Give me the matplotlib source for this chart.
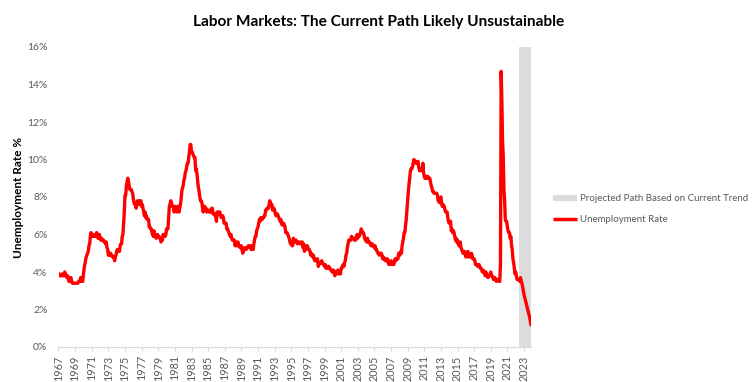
import matplotlib
matplotlib.use("Agg")
import matplotlib.pyplot as plt
from matplotlib.lines import Line2D
import numpy as np

# ---- Data: monthly unemployment rate (%), Jan 1967 onward ----
u_1967_1969 = [3.9, 3.8, 3.8, 3.8, 3.8, 3.9, 3.8, 3.8, 3.8, 4.0, 3.9, 3.8,
               3.7, 3.8, 3.7, 3.5, 3.5, 3.7, 3.7, 3.5, 3.4, 3.4, 3.4, 3.4,
               3.4, 3.4, 3.4, 3.4, 3.4, 3.5, 3.5, 3.5, 3.7, 3.7, 3.5, 3.5]
u_1970s = [3.9, 4.2, 4.4, 4.6, 4.8, 4.9, 5.0, 5.1, 5.4, 5.5, 5.9, 6.1,
           5.9, 5.9, 6.0, 5.9, 5.9, 5.9, 6.0, 6.1, 6.0, 5.8, 6.0, 6.0,
           5.8, 5.7, 5.8, 5.7, 5.7, 5.7, 5.6, 5.6, 5.5, 5.6, 5.3, 5.2,
           4.9, 5.0, 4.9, 5.0, 4.9, 4.9, 4.8, 4.8, 4.8, 4.6, 4.8, 4.9,
           5.1, 5.2, 5.1, 5.1, 5.1, 5.4, 5.5, 5.5, 5.9, 6.0, 6.6, 7.2,
           8.1, 8.1, 8.6, 8.8, 9.0, 8.8, 8.6, 8.4, 8.4, 8.4, 8.3, 8.2,
           7.9, 7.7, 7.6, 7.7, 7.4, 7.6, 7.8, 7.8, 7.6, 7.7, 7.8, 7.8,
           7.5, 7.6, 7.4, 7.2, 7.0, 7.2, 6.9, 7.0, 6.8, 6.8, 6.8, 6.4,
           6.4, 6.3, 6.3, 6.1, 6.0, 5.9, 6.2, 5.9, 6.0, 5.8, 5.9, 6.0,
           5.9, 5.9, 5.8, 5.8, 5.6, 5.7, 5.7, 6.0, 5.9, 6.0, 5.9, 6.0]
u_1980s = [6.3, 6.3, 6.3, 6.9, 7.5, 7.6, 7.8, 7.7, 7.5, 7.5, 7.5, 7.2,
           7.5, 7.4, 7.4, 7.2, 7.5, 7.5, 7.2, 7.4, 7.6, 7.9, 8.3, 8.5,
           8.6, 8.9, 9.0, 9.3, 9.4, 9.6, 9.8, 9.8, 10.1, 10.4, 10.8, 10.8,
           10.4, 10.4, 10.3, 10.2, 10.1, 10.1, 9.4, 9.5, 9.2, 8.8, 8.5, 8.3,
           8.0, 7.8, 7.8, 7.7, 7.4, 7.2, 7.5, 7.5, 7.3, 7.4, 7.2, 7.3,
           7.3, 7.2, 7.2, 7.3, 7.2, 7.4, 7.4, 7.1, 7.1, 7.1, 7.0, 7.0,
           6.7, 7.2, 7.2, 7.1, 7.2, 7.2, 7.0, 6.9, 7.0, 7.0, 6.9, 6.6,
           6.6, 6.6, 6.6, 6.3, 6.3, 6.2, 6.1, 6.0, 5.9, 6.0, 5.8, 5.7,
           5.7, 5.7, 5.7, 5.4, 5.6, 5.4, 5.4, 5.6, 5.4, 5.4, 5.3, 5.3,
           5.4, 5.2, 5.0, 5.2, 5.2, 5.3, 5.2, 5.2, 5.3, 5.3, 5.4, 5.4]
u_1990s = [5.4, 5.3, 5.2, 5.4, 5.4, 5.2, 5.5, 5.7, 5.9, 5.9, 6.2, 6.3,
           6.4, 6.6, 6.8, 6.7, 6.9, 6.9, 6.8, 6.9, 6.9, 7.0, 7.0, 7.3,
           7.3, 7.4, 7.4, 7.4, 7.6, 7.8, 7.7, 7.6, 7.6, 7.3, 7.4, 7.4,
           7.3, 7.1, 7.0, 7.1, 7.1, 7.0, 6.9, 6.8, 6.7, 6.8, 6.6, 6.5,
           6.6, 6.6, 6.5, 6.4, 6.1, 6.1, 6.1, 6.0, 5.9, 5.8, 5.6, 5.5,
           5.6, 5.4, 5.4, 5.8, 5.6, 5.6, 5.7, 5.7, 5.6, 5.5, 5.6, 5.6,
           5.6, 5.5, 5.5, 5.6, 5.6, 5.3, 5.5, 5.1, 5.2, 5.2, 5.4, 5.4,
           5.3, 5.2, 5.2, 5.1, 4.9, 5.0, 4.9, 4.8, 4.9, 4.7, 4.6, 4.7,
           4.6, 4.6, 4.7, 4.3, 4.4, 4.5, 4.5, 4.5, 4.6, 4.5, 4.4, 4.4,
           4.3, 4.4, 4.2, 4.3, 4.2, 4.3, 4.3, 4.2, 4.2, 4.1, 4.1, 4.0]
u_2000s = [4.0, 4.1, 4.0, 3.8, 4.0, 4.0, 4.0, 4.1, 3.9, 3.9, 3.9, 3.9,
           4.2, 4.2, 4.3, 4.4, 4.3, 4.5, 4.6, 4.9, 5.0, 5.3, 5.5, 5.7,
           5.7, 5.7, 5.7, 5.9, 5.8, 5.8, 5.8, 5.7, 5.7, 5.7, 5.9, 6.0,
           5.8, 5.9, 5.9, 6.0, 6.1, 6.3, 6.2, 6.1, 6.1, 6.0, 5.8, 5.7,
           5.7, 5.6, 5.8, 5.6, 5.6, 5.6, 5.5, 5.4, 5.4, 5.5, 5.4, 5.4,
           5.3, 5.4, 5.2, 5.2, 5.1, 5.0, 5.0, 4.9, 5.0, 5.0, 5.0, 4.9,
           4.7, 4.8, 4.7, 4.7, 4.6, 4.6, 4.7, 4.7, 4.5, 4.4, 4.5, 4.4,
           4.6, 4.5, 4.4, 4.5, 4.4, 4.6, 4.7, 4.6, 4.7, 4.7, 4.7, 5.0,
           5.0, 4.9, 5.1, 5.0, 5.4, 5.6, 5.8, 6.1, 6.1, 6.5, 6.8, 7.3,
           7.8, 8.3, 8.7, 9.0, 9.4, 9.5, 9.5, 9.6, 9.8, 10.0, 9.9, 9.9]
u_2010s = [9.8, 9.8, 9.9, 9.9, 9.6, 9.4, 9.4, 9.5, 9.5, 9.4, 9.8, 9.3,
           9.1, 9.0, 9.0, 9.1, 9.0, 9.1, 9.0, 9.0, 9.0, 8.8, 8.6, 8.5,
           8.3, 8.3, 8.2, 8.2, 8.2, 8.2, 8.2, 8.1, 7.8, 7.8, 7.7, 7.9,
           8.0, 7.7, 7.5, 7.6, 7.5, 7.5, 7.3, 7.2, 7.2, 7.2, 6.9, 6.7,
           6.6, 6.7, 6.7, 6.2, 6.3, 6.1, 6.2, 6.1, 5.9, 5.7, 5.8, 5.6,
           5.7, 5.5, 5.4, 5.4, 5.6, 5.3, 5.2, 5.1, 5.0, 5.0, 5.1, 5.0,
           4.8, 4.9, 5.0, 5.1, 4.8, 4.9, 4.8, 4.9, 5.0, 4.9, 4.7, 4.7,
           4.7, 4.6, 4.4, 4.4, 4.4, 4.3, 4.3, 4.4, 4.3, 4.2, 4.2, 4.1,
           4.0, 4.1, 4.0, 4.0, 3.8, 4.0, 3.8, 3.8, 3.7, 3.8, 3.8, 3.9,
           4.0, 3.8, 3.8, 3.7, 3.6, 3.6, 3.7, 3.6, 3.5, 3.6, 3.6, 3.6]
u_2020s = [3.5, 3.5, 4.4, 14.7, 13.2, 11.0, 10.2, 8.4, 7.8, 6.8, 6.7, 6.7,
           6.4, 6.2, 6.1, 6.1, 5.8, 5.9, 5.4, 5.2, 4.7, 4.5, 4.2, 3.9,
           4.0, 3.8, 3.6, 3.6, 3.6, 3.6, 3.5, 3.7, 3.5]
# projected path (Oct 2022 - Nov 2023)
u_projected = [3.4, 3.2, 3.0, 2.8, 2.65, 2.5, 2.35, 2.2, 2.05, 1.9, 1.75, 1.6, 1.4, 1.2]

start_year = 1967
band_start = 2022.43
x_end = 2023.84
tick_years = list(range(1967, 2024, 2))
y_ticks = [0, 2, 4, 6, 8, 10, 12, 14, 16]

title = "Labor Markets: The Current Path Likely Unsustainable"
ylabel = "Unemployment Rate %"
band_label = "Projected Path Based on Current Trend"
line_label = "Unemployment Rate"

values = np.array(u_1967_1969 + u_1970s + u_1980s + u_1990s + u_2000s
                  + u_2010s + u_2020s + u_projected)
x = start_year + np.arange(len(values)) / 12.0

# ---- Plot ----
plt.rcParams['font.family'] = ['Lato', 'DejaVu Sans']
fig = plt.figure(figsize=(7.56, 3.82), dpi=100)
ax = fig.add_axes([58.5 / 756, 1 - 347 / 382, (531 - 58.5) / 756, 300 / 382])

grey_txt = '#595959'
band_col = '#DCDCDC'

ax.axvspan(band_start, x_end, ymin=0, ymax=1, color=band_col, lw=0, zorder=1)
ax.plot(x, values, color='#FF0000', lw=2.4, zorder=3, solid_joinstyle='round')

ax.set_xlim(start_year, x_end)
ax.set_ylim(0, 16)
ax.set_yticks(y_ticks)
ax.set_yticklabels([f"{v}%" for v in y_ticks], fontsize=7.5, color=grey_txt)
ax.set_xticks(tick_years)
ax.set_xticklabels([str(t) for t in tick_years], rotation=90, fontsize=7.8,
                   color=grey_txt)
ax.tick_params(axis='y', length=0, pad=8)
ax.tick_params(axis='x', length=3, color='#D9D9D9', pad=3)

for s in ['top', 'right', 'left']:
    ax.spines[s].set_visible(False)
ax.spines['bottom'].set_color('#D9D9D9')
ax.spines['bottom'].set_linewidth(0.8)

fig.text(379 / 756, 1 - 22 / 382, title, ha='center', va='center',
         fontsize=11.1, fontweight='bold', color='black')
fig.text(19 / 756, 1 - 197 / 382, ylabel, ha='center', va='center',
         rotation=90, fontsize=8.5, fontweight='bold', color='black')

handles = [Line2D([0], [0], color=band_col, lw=4.5, solid_capstyle='butt'),
           Line2D([0], [0], color='#FF0000', lw=2.5, solid_capstyle='butt')]
leg = fig.legend(handles, [band_label, line_label], loc='center left',
                 bbox_to_anchor=(548 / 756, 1 - 209 / 382), frameon=False,
                 fontsize=7.0, handlelength=2.5, handletextpad=0.3,
                 labelspacing=1.25, borderpad=0)
for t in leg.get_texts():
    t.set_color(grey_txt)

fig.savefig("out.png", dpi=100)
